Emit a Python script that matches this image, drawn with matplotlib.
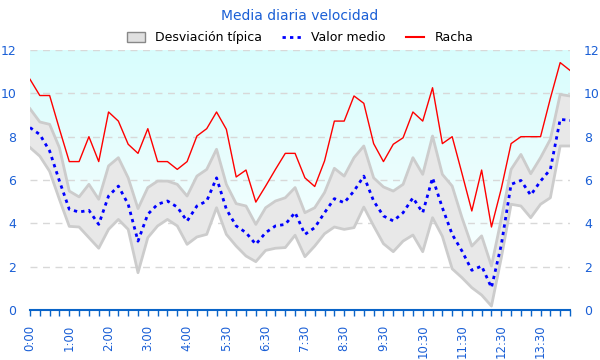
import matplotlib
matplotlib.use('Agg')
import matplotlib.pyplot as plt
import numpy as np
from matplotlib.patches import Patch, Polygon
from matplotlib.lines import Line2D

# etiquetas del eje x (una cada 4 muestras)
etiquetas = ['0:00', '1:00', '2:00', '3:00', '4:00', '5:30', '6:30',
             '7:30', '8:30', '9:30', '10:30', '11:30', '12:30', '13:30']

# racha
racha = [10.65, 9.9, 9.9, 8.35, 6.85, 6.85, 8.0, 6.85, 9.14, 8.72, 7.65, 7.23, 8.37, 6.85,
         6.85, 6.49, 6.85, 8.03, 8.37, 9.14, 8.34, 6.14, 6.46, 4.98, 5.72, 6.49, 7.23, 7.23,
         6.1, 5.7, 6.88, 8.72, 8.72, 9.88, 9.54, 7.68, 6.85, 7.65, 7.95, 9.14, 8.72, 10.26,
         7.68, 8.0, 6.3, 4.57, 6.46, 3.83, 5.6, 7.68, 8.0, 8.0, 8.0, 9.77, 11.42, 11.06]

# valor medio
medio = [8.42, 8.1, 7.34, 5.95, 4.65, 4.52, 4.6, 3.95, 5.26, 5.72, 4.88, 3.18, 4.42, 4.88,
         5.03, 4.75, 4.1, 4.8, 5.03, 6.1, 4.65, 3.88, 3.57, 3.03, 3.57, 3.88, 3.95, 4.5,
         3.49, 3.8, 4.49, 5.14, 4.95, 5.49, 6.18, 5.03, 4.34, 4.11, 4.49, 5.18, 4.49, 6.1,
         4.72, 3.49, 2.72, 1.83, 2.03, 1.03, 3.0, 5.8, 5.98, 5.3, 5.95, 6.49, 8.8, 8.75]

# desviacion tipica: limite superior e inferior
superior = [9.29, 8.68, 8.57, 7.49, 5.49, 5.22, 5.8, 5.11, 6.65, 7.03, 6.1, 4.68, 5.65, 5.95,
            5.95, 5.8, 5.26, 6.18, 6.49, 7.42, 5.8, 4.91, 4.8, 3.95, 4.72, 5.03, 5.18, 5.65,
            4.49, 4.72, 5.42, 6.54, 6.18, 7.03, 7.57, 6.1, 5.68, 5.49, 5.8, 7.03, 6.26, 8.03,
            6.26, 5.72, 4.26, 2.95, 3.42, 2.03, 4.2, 6.49, 7.18, 6.29, 7.03, 7.88, 9.95, 9.88]
inferior = [7.5, 7.1, 6.4, 5.1, 3.86, 3.83, 3.34, 2.85, 3.72, 4.18, 3.72, 1.72, 3.34, 3.88,
            4.18, 3.88, 3.03, 3.37, 3.49, 4.72, 3.49, 2.95, 2.49, 2.23, 2.75, 2.85, 2.88, 3.45,
            2.46, 2.95, 3.52, 3.83, 3.72, 3.8, 4.75, 3.88, 3.06, 2.69, 3.18, 3.46, 2.69, 4.26,
            3.4, 1.9, 1.49, 1.03, 0.69, 0.18, 2.4, 4.88, 4.8, 4.26, 4.88, 5.18, 7.57, 7.57]

azul = '#1a5fd6'
x = np.arange(len(racha))

fig = plt.figure(figsize=(6, 3.6), dpi=100)
ax = fig.add_axes([0.05, 0.139, 0.9, 0.722])
ax.set_xlim(0, len(racha) - 1)
ax.set_ylim(0, 12)

# degradado cian por encima de la banda
grad = np.linspace(0, 1, 256).reshape(-1, 1)
cmap = matplotlib.colors.LinearSegmentedColormap.from_list('c', ['#ffffff', '#d8fdfd'])
im = ax.imshow(grad, extent=[0, len(racha) - 1, 0, 12], origin='lower', aspect='auto',
               cmap=cmap, zorder=0)
verts = list(zip(x, superior)) + [(x[-1], 12), (0, 12)]
clip = Polygon(verts, closed=True, transform=ax.transData, facecolor='none', edgecolor='none')
ax.add_patch(clip)
im.set_clip_path(clip)

# rejilla
for v in range(2, 13, 2):
    ax.axhline(v, color='#d8d8d8', lw=1, ls=(0, (5, 4)), zorder=1)

ax.fill_between(x, inferior, superior, facecolor='#e8e8e8', edgecolor='none', zorder=2)
ax.plot(x, superior, color='#cccccc', lw=2, zorder=3)
ax.plot(x, inferior, color='#cccccc', lw=2, zorder=3)
ax.plot(x, medio, color='#0000ff', lw=2, ls=(0, (1.2, 1.5)), zorder=4)
ax.plot(x, racha, color='#ff0000', lw=1, zorder=5)

ax.set_xticks(x, minor=True)
ax.set_xticks(x[::4][:len(etiquetas)])
ax.set_xticklabels(etiquetas, rotation=90, color=azul, fontsize=8.5)
ax.tick_params(axis='x', which='both', direction='out', length=4.5, width=1, color='#0a64c8', pad=6)
ax.set_yticks(range(0, 13, 2))
ax.tick_params(axis='y', length=0, labelcolor=azul, labelsize=9, left=True, right=True,
               labelleft=True, labelright=True, pad=10)
for s in ['left', 'right', 'top']:
    ax.spines[s].set_visible(False)
ax.spines['bottom'].set_color('#0a64c8')
ax.spines['bottom'].set_linewidth(1.5)

fig.text(0.5, 0.955, 'Media diaria velocidad', ha='center', va='center', color=azul, fontsize=10)
handles = [Patch(facecolor='#e0e0e0', edgecolor='#888888', label='Desviación típica'),
           Line2D([], [], color='#0000ff', lw=2, ls=(0, (1.2, 1.5)), label='Valor medio'),
           Line2D([], [], color='#ff0000', lw=1.5, label='Racha')]
fig.legend(handles=handles, loc='center', bbox_to_anchor=(0.5, 0.895), ncol=3, frameon=False,
           fontsize=9, handlelength=1.5, handleheight=0.8, columnspacing=1.6, handletextpad=0.8)

fig.savefig('out.png', dpi=100)
